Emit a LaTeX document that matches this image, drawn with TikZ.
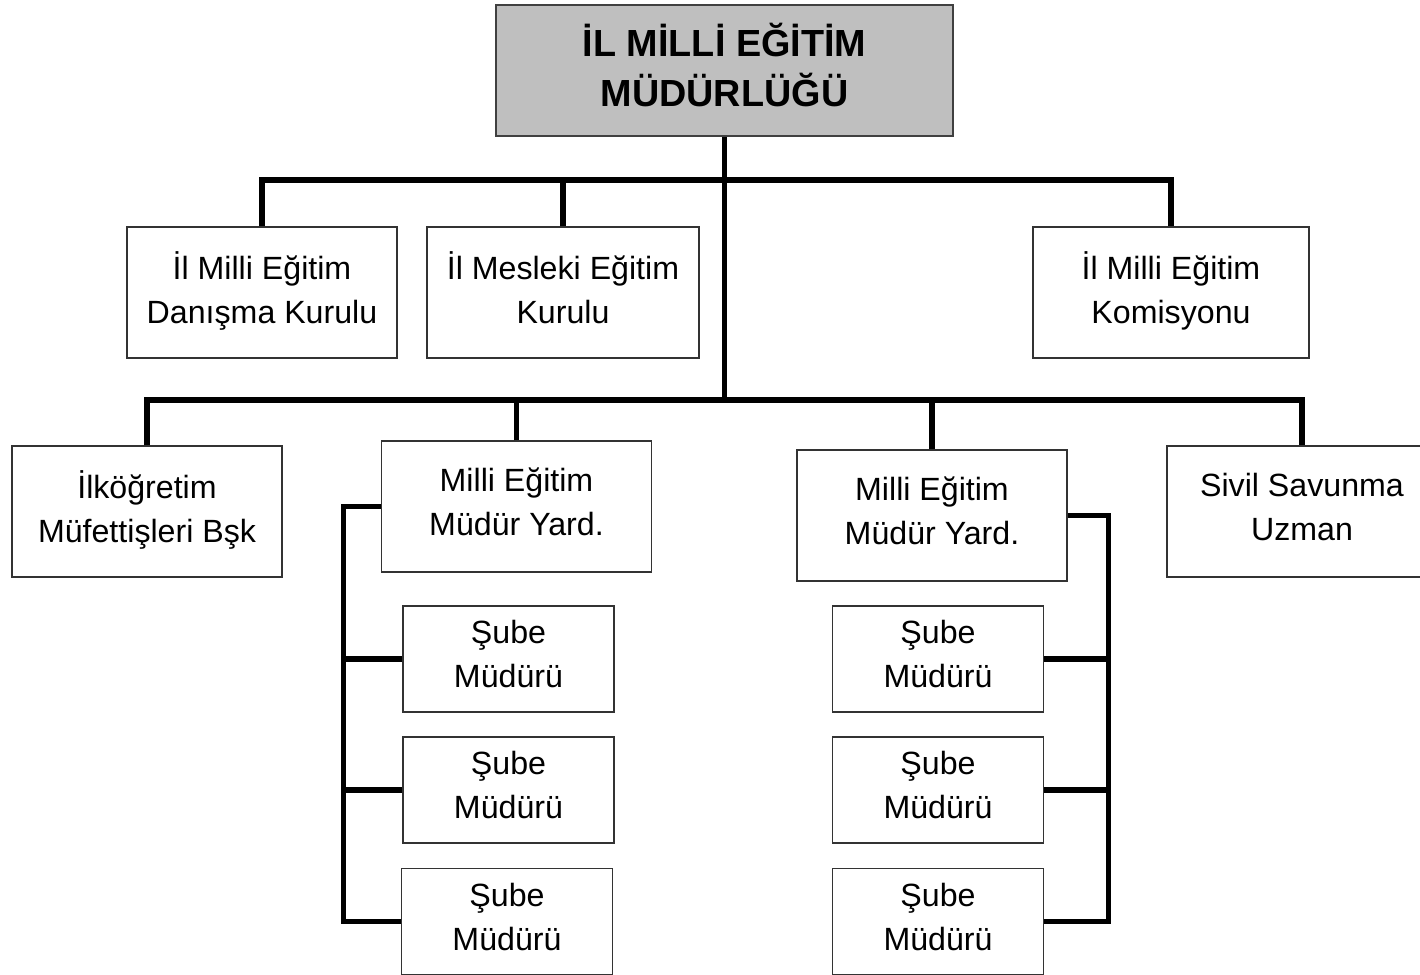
\documentclass[tikz,border=0pt]{standalone}
\usepackage{fontspec}
\setmainfont{Liberation Sans}

\begin{document}
\begin{tikzpicture}[x=0.02cm,y=-0.02cm,
		unit/.style={draw=black!80, line width=0.8pt, fill=white, align=center,
			minimum width=5.4cm, minimum height=2.62cm, inner sep=0pt,
			execute at begin node={\rule{0pt}{0.95em}},
			execute at end node={\rule[-0.3em]{0pt}{0.3em}},
			font=\fontsize{18.3}{25}\selectfont},
		sube/.style={unit, minimum width=4.22cm, minimum height=2.12cm,
			execute at begin node={\rule{0pt}{0.8em}}},
		link/.style={line width=3pt}]
	\useasboundingbox (0,0) rectangle (1420,974);
	% head office
	\node[unit, fill=gray!50, draw=black!75, line width=1pt, minimum width=9.14cm,
		font=\fontsize{21.5}{28.5}\selectfont\bfseries] (mudurluk) at (724.5,70.5)
		{İL MİLLİ EĞİTİM\\MÜDÜRLÜĞÜ};
	\coordinate (bus1) at (724.5,180);
	\coordinate (bus2) at (724.5,400);
	% boards
	\node[unit] (danisma) at (262,292.5) {İl Milli Eğitim\\Danışma Kurulu};
	\node[unit, minimum width=5.44cm] (mesleki) at (563,292.5) {İl Mesleki Eğitim\\Kurulu};
	\node[unit, minimum width=5.52cm] (komisyon) at (1171,292.5) {İl Milli Eğitim\\Komisyonu};
	% second level
	\node[unit] (ilkogretim) at (147,511.5) {İlköğretim\\Müfettişleri Bşk};
	\node[unit] (yard1) at (516.5,506.5) {Milli Eğitim\\Müdür Yard.};
	\node[unit] (yard2) at (932,515.5) {Milli Eğitim\\Müdür Yard.};
	\node[unit] (sivil) at (1302,511.5) {Sivil Savunma\\Uzman};
	% branch managers
	\node[sube] (sube11) at (508.5,659) {Şube\\Müdürü};
	\node[sube] (sube12) at (508.5,790) {Şube\\Müdürü};
	\node[sube] (sube13) at (507,921.5) {Şube\\Müdürü};
	\node[sube] (sube21) at (938,659) {Şube\\Müdürü};
	\node[sube] (sube22) at (938,790) {Şube\\Müdürü};
	\node[sube] (sube23) at (938,921.5) {Şube\\Müdürü};
	% links
	\draw[link] (mudurluk.south) -- (bus2);
	\draw[link] (danisma.north) |- (bus1) -| (komisyon.north);
	\draw[link] (mesleki.north) -- (mesleki.north |- bus1);
	\draw[link] (ilkogretim.north) |- (bus2) -| (sivil.north);
	\draw[link] (yard1.north) -- (yard1.north |- bus2);
	\draw[link] (yard2.north) -- (yard2.north |- bus2);
	\draw[link] (yard1.west) -- ++(-37,0) coordinate (spineL) |- (sube13.west);
	\draw[link] (yard2.east) -- ++(41,0) coordinate (spineR) |- (sube23.east);
	\foreach \s in {sube11,sube12}
		\draw[link] (\s.west) -- (\s.west -| spineL);
	\foreach \s in {sube21,sube22}
		\draw[link] (\s.east) -- (\s.east -| spineR);
\end{tikzpicture}
\end{document}
